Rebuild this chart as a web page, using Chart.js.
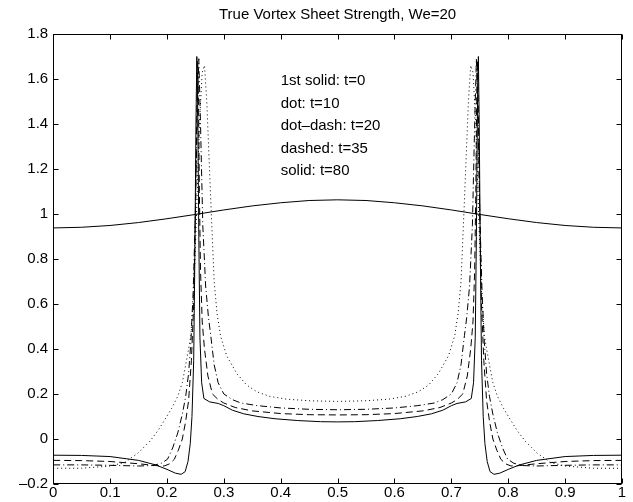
<!DOCTYPE html>
<html>
<head>
<meta charset="utf-8">
<script src="https://cdn.jsdelivr.net/npm/chart.js@4.4.1/dist/chart.umd.min.js"></script>
<style>
    html, body { margin: 0; padding: 0; background: #fff; }
    #wrap { width: 633px; height: 502px; }
</style>
</head>
<body>
<div id="wrap"><canvas id="vortexChart"></canvas></div>
<script>
// t=0 (1st solid)
const xT0 = [0, 0.05, 0.1, 0.15, 0.2, 0.25, 0.3, 0.35, 0.4, 0.45, 0.5, 0.55, 0.6, 0.65, 0.7, 0.75, 0.8, 0.85, 0.9, 0.95, 1];
const yT0 = [0.938, 0.941, 0.949, 0.962, 0.979, 0.998, 1.018, 1.036, 1.05, 1.06, 1.063, 1.06, 1.05, 1.036, 1.018, 0.998, 0.979, 0.962, 0.949, 0.941, 0.938];

// t=10 (dotted)
const xT10 = [0, 0.05, 0.1, 0.125, 0.149, 0.17, 0.185, 0.196, 0.208, 0.219, 0.227, 0.233, 0.238, 0.242, 0.247, 0.252, 0.257, 0.262, 0.266, 0.27, 0.274, 0.278, 0.283, 0.288, 0.294, 0.305, 0.323, 0.34, 0.358, 0.38, 0.41, 0.45, 0.5,
    0.55, 0.59, 0.62, 0.642, 0.66, 0.677, 0.695, 0.706, 0.712, 0.717, 0.722, 0.726, 0.73, 0.734, 0.738, 0.743, 0.748, 0.753, 0.758, 0.762, 0.767, 0.773, 0.781, 0.792, 0.804, 0.815, 0.83, 0.851, 0.875, 0.9, 0.95, 1];
const yT10 = [-0.13, -0.13, -0.12, -0.105, -0.063, -0.01, 0.04, 0.085, 0.135, 0.19, 0.25, 0.33, 0.4, 0.46, 0.65, 1.0, 1.4, 1.63, 1.66, 1.5, 1.25, 1.0, 0.7, 0.56, 0.46, 0.37, 0.29, 0.24, 0.21, 0.19, 0.177, 0.17, 0.167,
    0.17, 0.177, 0.19, 0.21, 0.24, 0.29, 0.37, 0.46, 0.56, 0.7, 1.0, 1.25, 1.5, 1.66, 1.63, 1.4, 1.0, 0.65, 0.46, 0.4, 0.33, 0.25, 0.19, 0.135, 0.085, 0.04, -0.01, -0.063, -0.105, -0.12, -0.13, -0.13];

// t=20 (dot-dash)
const xT20 = [0, 0.05, 0.1, 0.15, 0.175, 0.19, 0.201, 0.21, 0.219, 0.227, 0.233, 0.238, 0.242, 0.246, 0.25, 0.253, 0.256, 0.259, 0.263, 0.268, 0.273, 0.277, 0.283, 0.29, 0.3, 0.315, 0.33, 0.36, 0.4, 0.45, 0.5,
    0.55, 0.6, 0.64, 0.67, 0.685, 0.7, 0.71, 0.717, 0.723, 0.727, 0.732, 0.737, 0.741, 0.744, 0.747, 0.75, 0.754, 0.758, 0.762, 0.767, 0.773, 0.781, 0.79, 0.799, 0.81, 0.825, 0.85, 0.9, 0.95, 1];
const yT20 = [-0.115, -0.115, -0.117, -0.12, -0.118, -0.108, -0.09, -0.04, 0.027, 0.11, 0.19, 0.29, 0.43, 0.65, 1.0, 1.4, 1.69, 1.4, 0.95, 0.68, 0.54, 0.46, 0.33, 0.25, 0.2, 0.175, 0.16, 0.148, 0.138, 0.132, 0.13,
    0.132, 0.138, 0.148, 0.16, 0.175, 0.2, 0.25, 0.33, 0.46, 0.54, 0.68, 0.95, 1.4, 1.69, 1.4, 1.0, 0.65, 0.43, 0.29, 0.19, 0.11, 0.027, -0.04, -0.09, -0.108, -0.118, -0.12, -0.117, -0.115, -0.115];

// t=35 (dashed)
const xT35 = [0, 0.05, 0.1, 0.15, 0.18, 0.195, 0.205, 0.213, 0.22, 0.227, 0.233, 0.238, 0.243, 0.247, 0.25, 0.2525, 0.254, 0.2555, 0.257, 0.259, 0.262, 0.266, 0.272, 0.28, 0.29, 0.3, 0.32, 0.35, 0.4, 0.45, 0.5,
    0.55, 0.6, 0.65, 0.68, 0.7, 0.71, 0.72, 0.728, 0.734, 0.738, 0.741, 0.743, 0.7445, 0.746, 0.7475, 0.75, 0.753, 0.757, 0.762, 0.767, 0.773, 0.78, 0.787, 0.795, 0.805, 0.82, 0.85, 0.9, 0.95, 1];
const yT35 = [-0.095, -0.096, -0.1, -0.11, -0.118, -0.12, -0.11, -0.09, -0.05, 0.0, 0.08, 0.17, 0.35, 0.6, 1.0, 1.45, 1.68, 1.5, 1.1, 0.75, 0.52, 0.4, 0.28, 0.2, 0.175, 0.16, 0.14, 0.125, 0.113, 0.108, 0.107,
    0.108, 0.113, 0.125, 0.14, 0.16, 0.175, 0.2, 0.28, 0.4, 0.52, 0.75, 1.1, 1.5, 1.68, 1.45, 1.0, 0.6, 0.35, 0.17, 0.08, 0.0, -0.05, -0.09, -0.11, -0.12, -0.118, -0.11, -0.1, -0.096, -0.095];

// t=80 (solid)
const xT80 = [0, 0.05, 0.1, 0.15, 0.18, 0.2, 0.215, 0.225, 0.232, 0.237, 0.241, 0.244, 0.247, 0.249, 0.251, 0.2525, 0.254, 0.256, 0.258, 0.261, 0.265, 0.275, 0.29, 0.3, 0.315, 0.335, 0.36, 0.39, 0.43, 0.47, 0.5,
    0.53, 0.57, 0.61, 0.64, 0.665, 0.685, 0.7, 0.71, 0.725, 0.735, 0.739, 0.742, 0.744, 0.746, 0.7475, 0.749, 0.751, 0.753, 0.756, 0.759, 0.763, 0.768, 0.775, 0.785, 0.8, 0.82, 0.85, 0.9, 0.95, 1];
const yT80 = [-0.072, -0.073, -0.078, -0.095, -0.115, -0.135, -0.152, -0.157, -0.145, -0.1, -0.02, 0.1, 0.35, 0.8, 1.4, 1.7, 1.5, 0.9, 0.45, 0.25, 0.18, 0.165, 0.158, 0.148, 0.128, 0.112, 0.1, 0.09, 0.082, 0.077, 0.076,
    0.077, 0.082, 0.09, 0.1, 0.112, 0.128, 0.148, 0.158, 0.165, 0.18, 0.25, 0.45, 0.9, 1.5, 1.7, 1.4, 0.8, 0.35, 0.1, -0.02, -0.1, -0.145, -0.157, -0.152, -0.135, -0.115, -0.095, -0.078, -0.073, -0.072];

const xTickLabels = ['0', '0.1', '0.2', '0.3', '0.4', '0.5', '0.6', '0.7', '0.8', '0.9', '1'];
const yTickLabels = ['–0.2', '0', '0.2', '0.4', '0.6', '0.8', '1', '1.2', '1.4', '1.6', '1.8'];
const noteLines = ['1st solid: t=0', 'dot: t=10', 'dot–dash: t=20', 'dashed: t=35', 'solid: t=80'];
const noteY = [1.59, 1.49, 1.39, 1.29, 1.19];
const noteX = 0.40;

const FONT = "'Liberation Sans', Arial, Helvetica, sans-serif";

function pts(xs, ys) {
    return xs.map((x, i) => ({ x: x, y: ys[i] }));
}

function lineSet(label, xs, ys, dash) {
    return {
        label: label,
        data: pts(xs, ys),
        showLine: true,
        borderColor: '#000',
        borderWidth: 1,
        borderDash: dash,
        pointRadius: 0,
        tension: 0,
        fill: false
    };
}

// MATLAB style box with inward ticks + text notes
const boxPlugin = {
    id: 'matlabBox',
    afterDraw(chart) {
        const { ctx, chartArea: a } = chart;
        const xs = chart.scales.x, ys = chart.scales.y;
        const L = Math.round(a.left) + 0.5, R = Math.round(a.right) - 0.5;
        const T = Math.round(a.top) + 0.5, B = Math.round(a.bottom) - 0.5;
        ctx.save();
        ctx.strokeStyle = '#000';
        ctx.lineWidth = 1;
        ctx.strokeRect(L, T, R - L, B - T);
        ctx.beginPath();
        xs.ticks.forEach(t => {
            const px = Math.round(xs.getPixelForValue(t.value)) + 0.5;
            ctx.moveTo(px, B); ctx.lineTo(px, B - 5);
            ctx.moveTo(px, T); ctx.lineTo(px, T + 5);
        });
        ys.ticks.forEach(t => {
            const py = Math.round(ys.getPixelForValue(t.value)) + 0.5;
            ctx.moveTo(L, py); ctx.lineTo(L + 5, py);
            ctx.moveTo(R, py); ctx.lineTo(R - 5, py);
        });
        ctx.stroke();

        ctx.fillStyle = '#000';
        ctx.font = '15px ' + FONT;
        ctx.textBaseline = 'middle';
        ctx.textAlign = 'left';
        noteLines.forEach((s, i) => {
            ctx.fillText(s, xs.getPixelForValue(noteX), ys.getPixelForValue(noteY[i]));
        });
        ctx.restore();
    }
};

new Chart(document.getElementById('vortexChart'), {
    type: 'scatter',
    data: {
        datasets: [
            lineSet('t=0', xT0, yT0, []),
            lineSet('t=10', xT10, yT10, [1, 3]),
            lineSet('t=20', xT20, yT20, [7, 3, 1, 3]),
            lineSet('t=35', xT35, yT35, [7, 4]),
            lineSet('t=80', xT80, yT80, [])
        ]
    },
    options: {
        responsive: true,
        maintainAspectRatio: false,
        animation: false,
        layout: {
            padding: { left: 14, right: 11, top: 0, bottom: 0 }
        },
        plugins: {
            legend: { display: false },
            tooltip: { enabled: false },
            title: {
                display: true,
                fullSize: false,
                text: 'True Vortex Sheet Strength, We=20',
                color: '#000',
                font: { family: FONT, size: 15, weight: 'normal' },
                padding: { top: 6, bottom: 10 }
            }
        },
        scales: {
            x: {
                type: 'linear',
                min: 0,
                max: 1,
                grid: { display: false, drawTicks: false },
                border: { display: false },
                ticks: {
                    stepSize: 0.1,
                    padding: 0,
                    color: '#000',
                    maxRotation: 0,
                    font: { family: FONT, size: 15 },
                    callback: function (value, index) {
                        return xTickLabels[index];
                    }
                }
            },
            y: {
                type: 'linear',
                min: -0.2,
                max: 1.8,
                grid: { display: false, drawTicks: false },
                border: { display: false },
                ticks: {
                    stepSize: 0.2,
                    padding: 5,
                    color: '#000',
                    font: { family: FONT, size: 15 },
                    callback: function (value, index) {
                        return yTickLabels[index];
                    }
                }
            }
        }
    },
    plugins: [boxPlugin]
});
</script>
</body>
</html>
